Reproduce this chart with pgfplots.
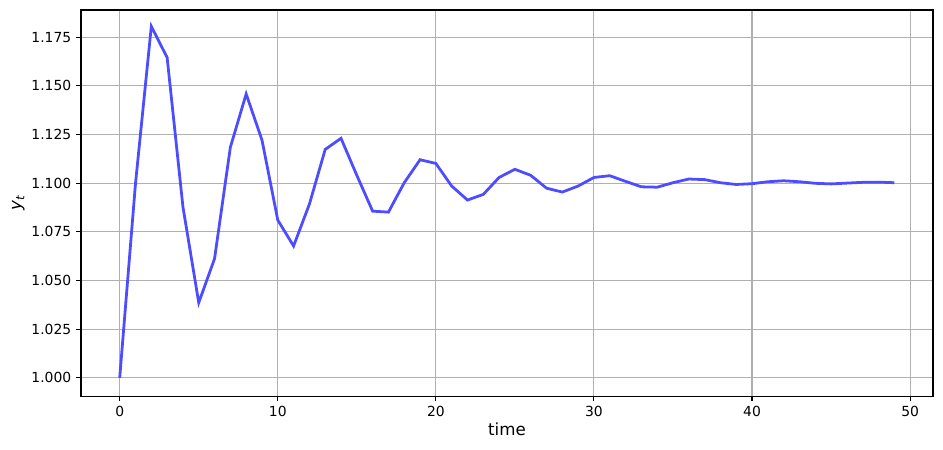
\documentclass[border=0pt]{standalone}
\usepackage{fontspec}
\setmainfont{DejaVu Sans}
\usepackage{pgfplots}
\pgfplotsset{compat=1.18}
\definecolor{gridgray}{HTML}{B0B0B0}
\definecolor{lineblue}{RGB}{77,77,255}
\begin{document}
\begin{tikzpicture}
\begin{axis}[
  at={(0,0)}, anchor=south west,
  scale only axis, width=613.4pt, height=278pt,
  xmin=-2.45, xmax=51.45, ymin=0.9906, ymax=1.1889,
  xtick={0,10,20,30,40,50},
  ytick={1.000,1.025,1.050,1.075,1.100,1.125,1.150,1.175},
  yticklabel style={/pgf/number format/fixed, /pgf/number format/fixed zerofill, /pgf/number format/precision=3},
  /pgf/number format/assume math mode=true,
  tick label style={font=\fontsize{10}{12}\selectfont},
  grid=major, major grid style={color=gridgray, line width=0.8pt},
  tick align=outside, tick pos=left, major tick length=3.5pt,
  every tick/.style={black, line width=0.8pt},
  axis line style={line width=0.8pt},
  xlabel={time}, ylabel={\textit{y}\raisebox{-0.35ex}{\fontsize{8.5}{10}\selectfont\textit{t}}},
  label style={font=\fontsize{12}{14}\selectfont},
  xlabel style={yshift=2pt},
  ylabel style={yshift=-2pt},
]
\addplot[lineblue, line width=2pt] coordinates {
(0,1.0000) (1,1.0999) (2,1.1805) (3,1.1645) (4,1.0878) (5,1.0386) (6,1.0612) (7,1.1184) (8,1.1458) (9,1.1221)
(10,1.0810) (11,1.0677) (12,1.0892) (13,1.1173) (14,1.1230) (15,1.1040) (16,1.0856) (17,1.0851) (18,1.1002) (19,1.1120)
(20,1.1101) (21,1.0985) (22,1.0913) (23,1.0942) (24,1.1029) (25,1.1071) (26,1.1040) (27,1.0974) (28,1.0954) (29,1.0985)
(30,1.1029) (31,1.1038) (32,1.1009) (33,1.0981) (34,1.0979) (35,1.1002) (36,1.1021) (37,1.1018) (38,1.1002) (39,1.0993)
(40,1.0997) (41,1.1007) (42,1.1012) (43,1.1007) (44,1.0999) (45,1.0996) (46,1.1000) (47,1.1004) (48,1.1005) (49,1.1002)
};
\end{axis}
\useasboundingbox (-58.3pt,-38.2pt) rectangle (620.6pt,285.2pt);
\end{tikzpicture}
\end{document}
